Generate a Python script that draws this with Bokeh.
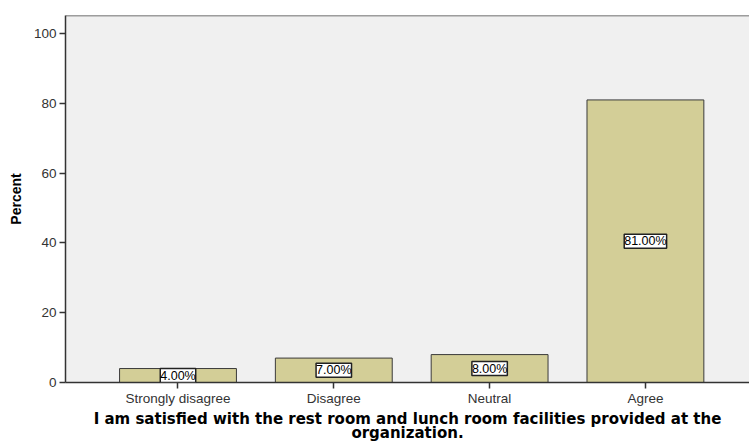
from bokeh.plotting import figure
from bokeh.models import Range1d, FixedTicker, ColumnDataSource, LabelSet, Span
from bokeh.core.properties import value
from bokeh.embed import file_html
from bokeh.resources import INLINE

categories = ["Strongly disagree", "Disagree", "Neutral", "Agree"]
percents = [4.0, 7.0, 8.0, 81.0]
y_ticks = [0, 20, 40, 60, 80, 100]
x_title = "I am satisfied with the rest room and lunch room facilities provided at the\norganization."
y_title = "Percent"

xs = [i + 0.5 for i in range(len(categories))]
src = ColumnDataSource(dict(
    x=xs,
    top=percents,
    mid=[v / 2 for v in percents],
    lab=[f"{v:.2f}%" for v in percents],
))

p = figure(width=749, height=445, output_backend="svg", toolbar_location=None,
           x_range=Range1d(-0.222, 4.168), y_range=Range1d(0, 105.2),
           min_border_left=65, min_border_right=0, min_border_top=15, min_border_bottom=63)

p.background_fill_color = "#f0f0f0"
p.border_fill_color = "white"
p.outline_line_color = None
p.xgrid.visible = False
p.ygrid.visible = False

p.vbar(x="x", top="top", width=0.75, bottom=0, source=src,
       fill_color="#d3ce97", line_color="#3a3a3a", line_width=1)

labels = LabelSet(x="x", y="mid", text="lab", source=src,
                  text_align="center", text_baseline="middle",
                  text_font=value("Liberation Sans"), text_font_size=value("12.5px"),
                  text_color="black",
                  background_fill_color="white", border_line_color="#222222",
                  border_line_width=1.5)
p.add_layout(labels)

p.add_layout(Span(location=105.2, dimension="width", line_color="#444444", line_width=1.5))

# axes
p.xaxis.ticker = FixedTicker(ticks=xs)
p.xaxis.major_label_overrides = {x: c for x, c in zip(xs, categories)}
p.yaxis.ticker = FixedTicker(ticks=y_ticks)
for ax in (p.xaxis, p.yaxis):
    ax.axis_line_color = "#333333"
    ax.axis_line_width = 1.5
    ax.major_tick_line_color = "#333333"
    ax.major_tick_line_width = 1.5
    ax.major_tick_out = 6
    ax.major_tick_in = 0
    ax.minor_tick_line_color = None
    ax.major_label_text_font = "Liberation Sans"
    ax.major_label_text_font_size = "13.5px"
    ax.major_label_text_color = "#333333"

p.xaxis.major_label_standoff = 2
p.yaxis.major_label_standoff = 3

p.yaxis.axis_label = y_title
p.yaxis.axis_label_text_font = "Liberation Sans"
p.yaxis.axis_label_text_font_style = "bold"
p.yaxis.axis_label_text_font_size = "14px"
p.yaxis.axis_label_text_color = "black"
p.yaxis.axis_label_standoff = 7

p.xaxis.axis_label = x_title
p.xaxis.axis_label_text_font = "DejaVu Sans"
p.xaxis.axis_label_text_font_style = "bold"
p.xaxis.axis_label_text_font_size = "15px"
p.xaxis.axis_label_text_color = "black"
p.xaxis.axis_label_standoff = 1
p.xaxis.axis_label_text_line_height = 0.82

open("out.html", "w").write(file_html(p, INLINE))
